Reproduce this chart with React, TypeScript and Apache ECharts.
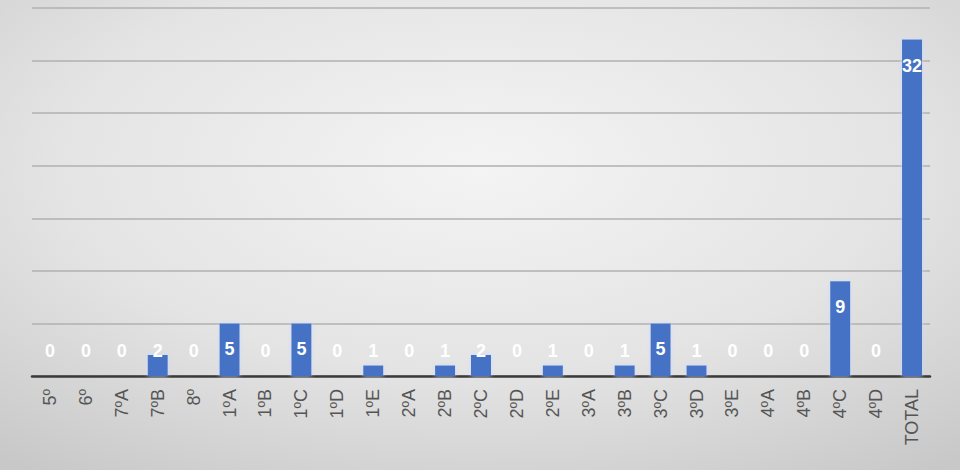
import React, { useEffect, useRef } from "react";
import * as echarts from "echarts";

const categories = ["5º","6º","7ºA","7ºB","8º","1ºA","1ºB","1ºC","1ºD","1ºE","2ºA","2ºB","2ºC","2ºD","2ºE","3ºA","3ºB","3ºC","3ºD","3ºE","4ºA","4ºB","4ºC","4ºD","TOTAL"];
const values = [0,0,0,2,0,5,0,5,0,1,0,1,2,0,1,0,1,5,1,0,0,0,9,0,32];
const yMax = 35;
const yInterval = 5;

export default function App() {
  const ref = useRef<HTMLDivElement>(null);
  useEffect(() => {
    document.body.style.margin = "0";
    const chart = echarts.init(ref.current!, null, { renderer: "svg" });
    const data = values.map((v) => ({
      value: v,
      label: v >= 5
        ? { position: "insideTop", distance: 17 }
        : { position: "insideBottom", distance: 16 },
    }));
    chart.setOption({
      animation: false,
      backgroundColor: {
        type: "radial", x: 0.5, y: 0.35, r: 0.8,
        colorStops: [
          { offset: 0, color: "#f4f4f4" },
          { offset: 0.55, color: "#e4e4e4" },
          { offset: 1, color: "#c8c8c8" },
        ],
      },
      grid: { left: 32, right: 30, top: 8, bottom: 94, containLabel: false },
      xAxis: {
        type: "category",
        data: categories,
        axisLine: { lineStyle: { color: "#3a3a3a", width: 2.5 } },
        axisTick: { show: false },
        axisLabel: {
          rotate: 90, margin: 13, color: "#555555", fontSize: 18,
          fontFamily: "Liberation Sans, Arial, sans-serif", interval: 0,
        },
      },
      yAxis: {
        type: "value", min: 0, max: yMax, interval: yInterval,
        axisLabel: { show: false },
        axisLine: { show: false },
        axisTick: { show: false },
        splitLine: { show: true, lineStyle: { color: "#b0b0b0", width: 1.5 } },
      },
      series: [{
        type: "bar",
        data,
        barWidth: 20,
        itemStyle: {
          color: "#4472C4",
          shadowColor: "rgba(200,220,255,0.9)",
          shadowBlur: 4,
        },
        label: {
          show: true,
          color: "#ffffff",
          fontWeight: "bold",
          fontSize: 18,
          fontFamily: "Liberation Sans, Arial, sans-serif",
        },
      }],
    });
    return () => chart.dispose();
  }, []);
  return <div ref={ref} style={{ width: 960, height: 470 }} />;
}
